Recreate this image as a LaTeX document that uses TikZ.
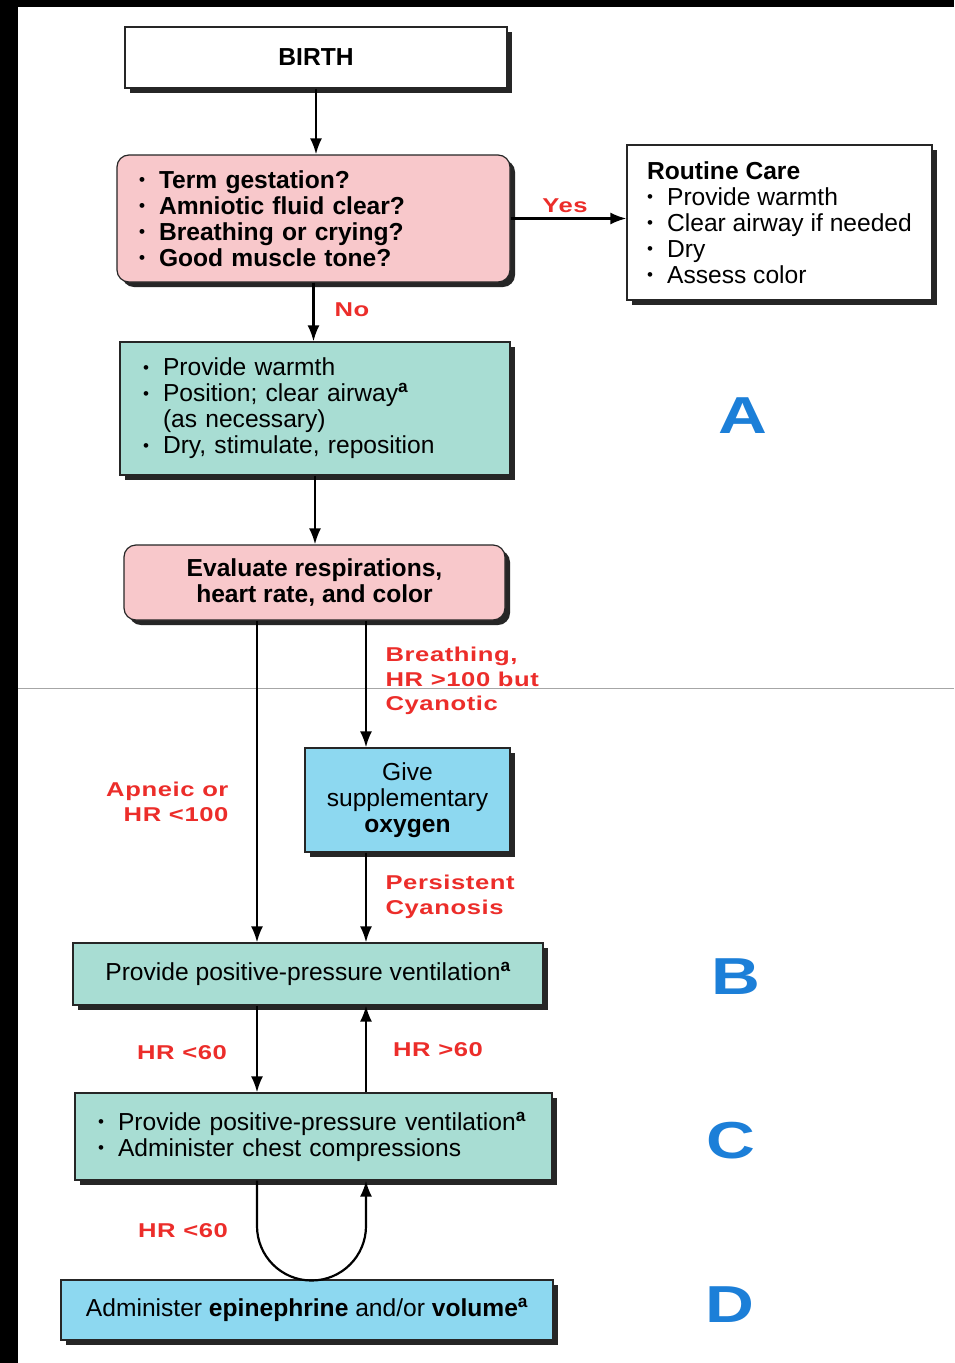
\documentclass[tikz,border=0pt]{standalone}
\usepackage{fontspec}
\setmainfont{Liberation Sans}
\newfontfamily\lblfont[FakeStretch=1.28, LetterSpace=3]{Liberation Sans}
\newfontfamily\stagefont[FakeStretch=1.3]{Liberation Sans}
\usetikzlibrary{shadows,arrows.meta}

\definecolor{pinkbox}{HTML}{F8C8CB}
\definecolor{tealbox}{HTML}{A8DDD3}
\definecolor{bluebox}{HTML}{8DD8F0}
\definecolor{lblred}{HTML}{EC2D2A}
\definecolor{stageblue}{HTML}{1C7FD8}

\newcommand\boxfont{\fontsize{24.6}{26}\selectfont}
\newcommand\bul{\makebox[20pt][l]{\raisebox{2.5pt}{\fontsize{17}{17}\selectfont •}}}
\newcommand\supa{\textsuperscript{\bfseries a}}

\tikzset{
    box/.style={draw=black!85, line width=1.2pt, font=\boxfont,
        drop shadow={shadow xshift=5pt, shadow yshift=-5pt, fill=black!85, opacity=1}},
    arr/.style={-{Latex[length=16pt,width=12pt]}, line width=2.2pt},
    lbl/.style={text=lblred, font=\lblfont\bfseries\fontsize{20}{24.5}\selectfont},
    stage/.style={text=stageblue, font=\stagefont\bfseries\fontsize{52}{52}\selectfont}
}

\begin{document}
\begin{tikzpicture}[x=1pt,y=-1pt]
    \useasboundingbox (0,0) rectangle (954,1363);
    \fill[white] (0,0) rectangle (954,1363);
    \fill[black] (0,0) rectangle (18,1363);
    \fill[black] (0,0) rectangle (954,7);
    \draw[gray!70, line width=1pt] (18,688) -- (954,688);

    \coordinate (lane1) at (257,0);
    \coordinate (lane2) at (366,0);
    \coordinate (loopy) at (0,1226);

    \node[box, fill=white, minimum width=382, minimum height=61, font=\boxfont\bfseries] (birth) at (316,57.5) {BIRTH};
    \node[box, rounded corners=12, fill=pinkbox, minimum height=127, inner xsep=22, text width=349, align=left, font=\boxfont\bfseries] (quest) at (313.5,218.5)
        {\bul Term gestation?\\ \bul Amniotic fluid clear?\\ \bul Breathing or crying?\\ \bul Good muscle tone?};
    \node[box, fill=white, minimum width=305, minimum height=155, align=left] (routine) at (779.5,222.5)
        {\textbf{Routine Care}\\ \bul Provide warmth\\ \bul Clear airway if needed\\ \bul Dry\\ \bul Assess color};
    \node[box, fill=tealbox, minimum height=133, inner xsep=23, text width=344, align=left] (warm) at (315,408.5)
        {\bul Provide warmth\\ \bul Position; clear airway\supa\\ \hspace*{20pt}(as necessary)\\ \bul Dry, stimulate, reposition};
    \node[box, rounded corners=12, fill=pinkbox, minimum width=381, minimum height=75, align=center, font=\boxfont\bfseries] (evalr) at (314.5,582.5)
        {Evaluate respirations,\\ heart rate, and color};
    \node[box, fill=bluebox, minimum width=205, minimum height=104, align=center] (oxy) at (407.5,800)
        {Give\\ supplementary\\ \textbf{oxygen}};
    \node[box, fill=tealbox, minimum width=470, minimum height=62] (ppv) at (308,974)
        {Provide positive-pressure ventilation\supa};
    \node[box, fill=tealbox, minimum height=87, inner xsep=23, text width=431, align=left] (comp) at (313.5,1136.5)
        {\bul Provide positive-pressure ventilation\supa\\ \bul Administer chest compressions};
    \node[box, fill=bluebox, minimum width=492, minimum height=60] (drug) at (307,1310)
        {Administer \textbf{epinephrine} and/or \textbf{volume}\supa};

    % stage letters
    \node[stage] (sa) at (743,416) {A};
    \node[stage] (sb) at (736,977) {B};
    \node[stage] (sc) at (731,1141) {C};
    \node[stage] (sd) at (730,1305) {D};

    \draw[arr] (birth.south) -- (birth.south |- quest.north);
    \draw[arr] (quest.east) -- (quest.east -| routine.west);
    \draw[arr] (quest.south) -- (quest.south |- warm.north);
    \draw[arr] (warm.south) -- (warm.south |- evalr.north);
    \draw[arr] (evalr.south -| lane1) -- (ppv.north -| lane1);
    \draw[arr] (evalr.south -| lane2) -- (oxy.north -| lane2);
    \draw[arr] (oxy.south -| lane2) -- (ppv.north -| lane2);
    \draw[arr] (ppv.south -| lane1) -- (comp.north -| lane1);
    \draw[arr] (comp.north -| lane2) -- (ppv.south -| lane2);
    \draw[arr] (comp.south -| lane1) -- (lane1 |- loopy)
        arc[start angle=180, end angle=0, radius=54.5] -- (comp.south -| lane2);

    \node[lbl] (yes) at (565,206) {Yes};
    \node[lbl] (no) at (352,310) {No};
    \node[lbl, align=left, anchor=west] (breath) at (382,681) {Breathing,\\ HR >100 but\\ Cyanotic};
    \node[lbl, align=right, anchor=east] (apneic) at (232,802) {Apneic or\\ HR <100};
    \node[lbl, align=left, anchor=west] (persist) at (382,897) {Persistent\\ Cyanosis};
    \node[lbl] (hrlow) at (182,1053) {HR <60};
    \node[lbl] (hrhigh) at (438,1050) {HR >60};
    \node[lbl] (hrloop) at (183,1231) {HR <60};
\end{tikzpicture}
\end{document}
